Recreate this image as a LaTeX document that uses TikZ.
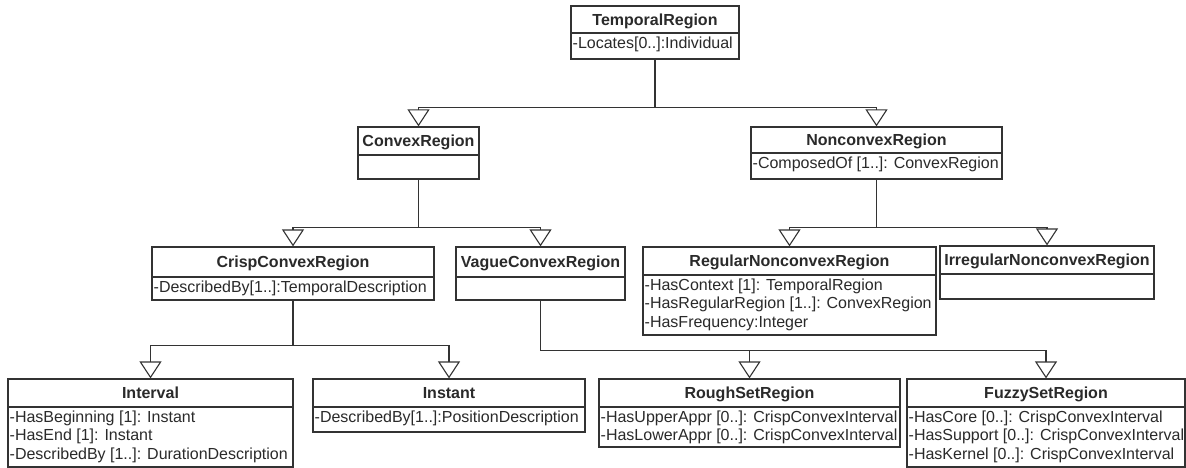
\documentclass[tikz,border=0pt]{standalone}
\usepackage{fontspec}
\setmainfont{Liberation Sans}
\usetikzlibrary{arrows.meta,fit}
\definecolor{linecol}{HTML}{333333}
\definecolor{txtcol}{HTML}{2A2A2A}
\tikzset{
  classbox/.style={draw=linecol, line width=1.2pt, inner sep=0pt, fill=white},
  divline/.style={draw=linecol, line width=1.1pt},
  titletext/.style={font=\fontsize{16}{18.5}\selectfont\bfseries, text=txtcol, inner sep=0pt},
  attrtext/.style={font=\fontsize{16}{18.5}\selectfont, text=txtcol, align=left, inner xsep=1.5pt, inner ysep=2pt},
  gen/.style={draw=linecol, line width=1.1pt, -{Triangle[open, width=22pt, length=17pt, line width=1.1pt]}},
  conn/.style={draw=linecol, line width=1.1pt}
}
\newcommand{\umlclass}[8]{%
  \node[classbox, fit={(#2,#3) (#4,#6)}] (#1) {};
  \draw[divline] (#2,#5) -- (#4,#5);
  \node[titletext, anchor=base] (#1-t) at ({(#2+#4)/2},{(#3+#5)/2+5.7}) {#7};
  \node[attrtext, anchor=north west] (#1-a) at (#2,#5) {#8};
}
\begin{document}
\begin{tikzpicture}[x=1pt,y=-1pt]
\path[fill=white] (0,0) rectangle (1186,468);
\useasboundingbox (0,0) rectangle (1186,468);

\umlclass{tr}{571}{6}{739}{33}{59}{TemporalRegion}{\strut-Locates[0..]:Individual}
\umlclass{cr}{358}{127}{479}{155}{179}{ConvexRegion}{}
\umlclass{nr}{751}{127}{1002}{153}{179}{NonconvexRegion}{\strut-ComposedOf [1..]: ConvexRegion}
\umlclass{ccr}{152}{247}{434}{277}{300}{CrispConvexRegion}{\strut-DescribedBy[1..]:TemporalDescription}
\umlclass{vcr}{456}{247}{625}{277}{300}{VagueConvexRegion}{}
\umlclass{rnr}{643}{247}{936}{275}{335}{RegularNonconvexRegion}{\strut-HasContext [1]: TemporalRegion\\\strut-HasRegularRegion [1..]: ConvexRegion\\\strut-HasFrequency:Integer}
\umlclass{inr}{940}{246}{1154}{274}{299}{IrregularNonconvexRegion}{}
\umlclass{iv}{8}{379}{293}{407}{467}{Interval}{\strut-HasBeginning [1]: Instant\\\strut-HasEnd [1]: Instant\\\strut-DescribedBy [1..]: DurationDescription}
\umlclass{in}{313}{379}{585}{407}{432}{Instant}{\strut-DescribedBy[1..]:PositionDescription}
\umlclass{rsr}{599}{379}{900}{407}{447}{RoughSetRegion}{\strut-HasUpperAppr [0..]: CrispConvexInterval\\\strut-HasLowerAppr [0..]: CrispConvexInterval}
\umlclass{fsr}{907}{379}{1185}{407}{467}{FuzzySetRegion}{\strut-HasCore [0..]: CrispConvexInterval\\\strut-HasSupport [0..]: CrispConvexInterval\\\strut-HasKernel [0..]: CrispConvexInterval}

% generalizations
\draw[gen] (tr.south) -- ++(0,48) -| (cr.north);
\draw[gen] (tr.south) -- ++(0,48) -| (nr.north);
\draw[gen] (cr.south) -- ++(0,48) -| (ccr.north);
\draw[gen] (cr.south) -- ++(0,48) -| (vcr.north);
\draw[gen] (nr.south) -- ++(0,48) -| (rnr.north);
\draw[gen] (nr.south) -- ++(0,48) -| (inr.north);
\draw[gen] (ccr.south) -- ++(0,45) -| (iv.north);
\draw[gen] (ccr.south) -- ++(0,45) -| (in.north);
\draw[gen] (vcr.south) -- ++(0,50) -| (rsr.north);
\draw[gen] (vcr.south) -- ++(0,50) -| (fsr.north);
\end{tikzpicture}
\end{document}
